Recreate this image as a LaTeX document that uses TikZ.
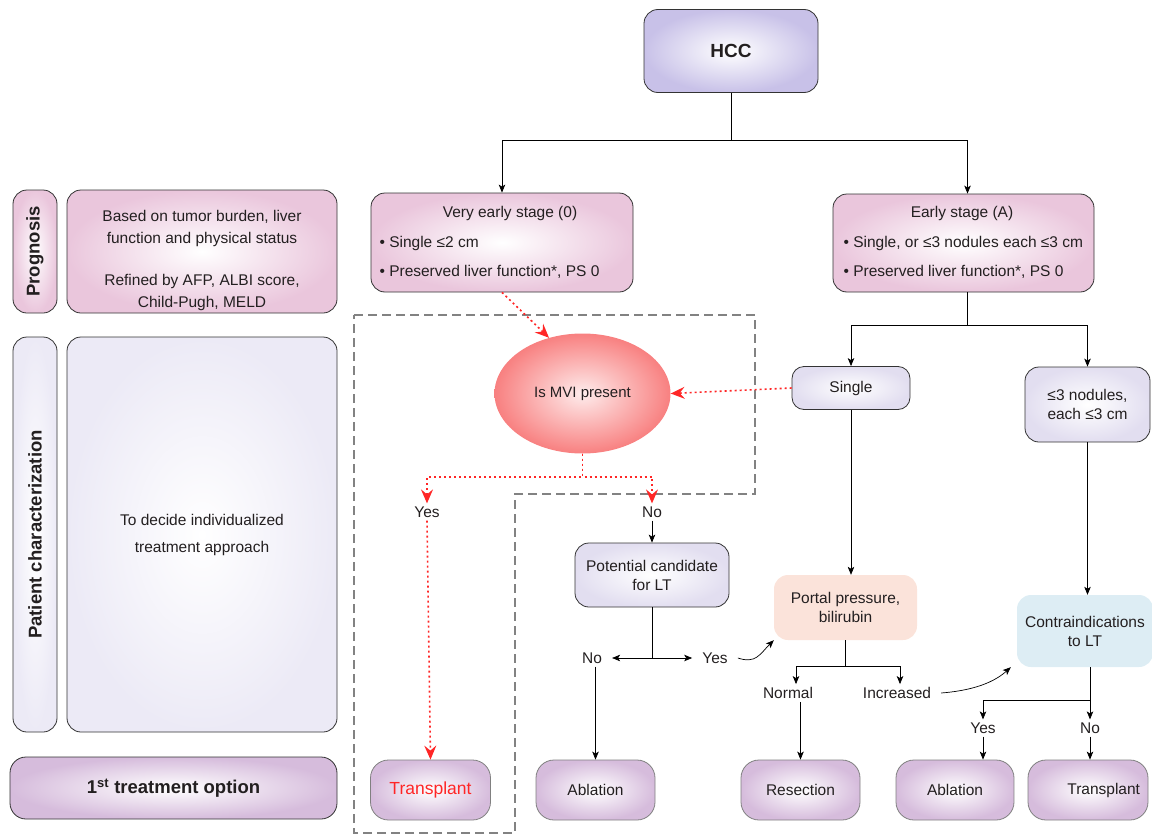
\documentclass[tikz,border=0pt]{standalone}
\usepackage{fontspec}
\setmainfont{Liberation Sans}
\usepackage{tikz}
\usetikzlibrary{shapes,arrows.meta,positioning}

\definecolor{lineC}{RGB}{51,51,51}
\definecolor{textC}{RGB}{35,31,32}
\definecolor{hccC}{RGB}{200,193,232}
\definecolor{stageC}{RGB}{234,198,220}
\definecolor{subC}{RGB}{226,222,240}
\definecolor{charC}{RGB}{236,234,246}
\definecolor{optC}{RGB}{214,188,220}
\definecolor{mviC}{RGB}{248,128,128}
\definecolor{portalC}{RGB}{251,227,218}
\definecolor{contraC}{RGB}{221,237,244}
\definecolor{redC}{RGB}{255,38,38}
\definecolor{dashC}{RGB}{130,130,130}

\tikzset{
  every node/.style={font=\fontsize{15.5}{19}\selectfont, text=textC},
  base/.style={rounded corners=14pt, draw=lineC, line width=0.8pt, inner sep=0pt},
  hccbox/.style={base, shade, inner color=white, outer color=hccC, minimum width=174pt, minimum height=83pt, font=\bfseries\fontsize{19}{22}\selectfont},
  stagebox/.style={base, shade, inner color=white, outer color=stageC, minimum width=262pt, minimum height=99pt},
  subbox/.style={base, shade, inner color=white, outer color=subC, align=center},
  tagbox/.style={base, shade, inner color=white, outer color=#1, minimum height=44pt, rotate=90, font=\bfseries\fontsize{18.5}{22}\selectfont},
  infobox/.style={base, shade, inner color=white, outer color=#1, minimum width=270pt},
  optbox/.style={base, draw=gray, rounded corners=18pt, shade, inner color=white, outer color=optC, minimum width=120pt, minimum height=60pt},
  softbox/.style={rounded corners=14pt, fill=#1, align=center, inner sep=0pt},
  lbl/.style={inner xsep=10pt, inner ysep=3pt},
  link/.style={-{Stealth[length=8pt,width=6.5pt,inset=2pt]}, draw=black, line width=0.7pt},
  redlink/.style={-{Stealth[length=14pt,width=12pt,inset=5pt]}, draw=redC, line width=1.6pt, dash pattern=on 2pt off 3pt},
  frame/.style={draw=dashC, line width=1.5pt, dash pattern=on 9pt off 5pt}
}

\begin{document}
\begin{tikzpicture}[x=1pt,y=-1pt]
\useasboundingbox (0,0) rectangle (1152,835);

% left column
\node[tagbox=stageC, minimum width=123pt] (tagprog) at (35,251.5) {Prognosis};
\node[infobox=stageC, minimum height=123pt] (prog) at (202,251.5) {};
\node[align=center, font=\fontsize{15.5}{22}\selectfont] (progtext) at (202,260)
  {Based on tumor burden, liver\\function and physical status\\[20pt]Refined by AFP, ALBI score,\\Child-Pugh, MELD};
\node[tagbox=charC, minimum width=395pt] (tagchar) at (35,534.5) {Patient characterization};
\node[infobox=charC, minimum height=395pt, align=center, font=\fontsize{15.5}{27}\selectfont] (char) at (202,534.5)
  {To decide individualized\\treatment approach};
\node[optbox, rounded corners=16pt, minimum width=327pt, minimum height=62pt, draw=lineC, font=\bfseries\fontsize{18.5}{22}\selectfont] (first) at (173.5,788)
  {1\textsuperscript{st} treatment option};

% frame round the MVI branch
\draw[frame] (354,315) -- (755,315) -- (755,494) -- (515,494) -- (515,833) -- (354,833) -- cycle;

% top of the tree
\node[hccbox] (hcc) at (731,51) {HCC};
\node[stagebox] (vearly) at (502,242.5) {};
\node (vearlyhead) at (510,213) {Very early stage (0)};
\node[anchor=west] (vearlyA) at (376,243) {\textbullet\ Single ≤2 cm};
\node[anchor=west] (vearlyB) at (376,272) {\textbullet\ Preserved liver function*, PS 0};
\node[stagebox, minimum width=261pt, minimum height=98pt] (early) at (963.5,243) {};
\node (earlyhead) at (962,213) {Early stage (A)};
\node[anchor=west] (earlyA) at (840,243) {\textbullet\ Single, or ≤3 nodules each ≤3 cm};
\node[anchor=west] (earlyB) at (840,272) {\textbullet\ Preserved liver function*, PS 0};

\draw[link] (hcc.south) -- ++(0,47) -| (vearly.north);
\draw[link] (hcc.south) -- ++(0,47) -| ([xshift=4pt]early.north);

% MVI branch
\node[ellipse, shade, inner color=white!85!mviC, outer color=mviC, minimum width=176pt, minimum height=120pt, inner sep=0pt, font=\fontsize{15}{18}\selectfont] (mvi) at (582.5,393.5) {Is MVI present};
\node[subbox, rounded corners=12pt, minimum width=118pt, minimum height=43pt] (single) at (851,388) {Single};
\node[subbox, minimum width=125pt, minimum height=75pt] (nodules) at (1087.5,404.5) {≤3 nodules,\\each ≤3 cm};

\draw[link] ([xshift=4pt]early.south) -- ++(0,33) -| (single.north);
\draw[link] ([xshift=4pt]early.south) -- ++(0,33) -| (nodules.north);
\draw[redlink] (vearly.south) -- (mvi.121);
\draw[redlink] (single.west) -- (mvi.east);

\node[lbl] (yesmvi) at (427,512) {Yes};
\node[lbl] (nomvi) at (652,512) {No};
\draw[redlink] (mvi.south) -- ++(0,23) -| (yesmvi.north);
\draw[redlink] (mvi.south) -- ++(0,23) -| (nomvi.north);

\node[optbox, text=redC, font=\fontsize{17.5}{20}\selectfont] (transA) at (430.5,790) {Transplant};
\draw[redlink] (yesmvi.south) -- (transA.north);

% candidate for LT
\node[subbox, minimum width=154pt, minimum height=64pt] (cand) at (652,575) {Potential candidate\\for LT};
\draw[link] (nomvi.south) -- (cand.north);
\node[lbl] (nocand) at (592,658) {No};
\node[lbl] (yescand) at (715,658) {Yes};
\draw[link] (cand.south) |- (nocand.east);
\draw[link] (cand.south) |- (yescand.west);
\node[optbox, minimum width=119pt] (ablA) at (595.5,790) {Ablation};
\draw[link] (ablA.north |- nocand.south) -- (ablA.north);

% portal pressure
\node[softbox=portalC, minimum width=143pt, minimum height=65pt] (portal) at (845.5,607.5) {Portal pressure,\\bilirubin};
\draw[link] (single.south) -- (single.south |- portal.north);
\draw[link] (yescand.east) .. controls +(18,6) and +(-14,14) .. (portal.south west);
\node[lbl] (normal) at (788,693) {Normal};
\node[lbl] (incr) at (897,693) {Increased};
\draw[link] (portal.south) -- ++(0,26) -| ([xshift=8pt]normal.north);
\draw[link] (portal.south) -- ++(0,26) -| ([xshift=3pt]incr.north);
\node[optbox, minimum width=119pt] (resec) at (800.5,790) {Resection};
\draw[link] (resec.north |- normal.south) -- (resec.north);

% contraindications
\node[softbox=contraC, minimum width=136pt, minimum height=72pt] (contra) at (1085,631) {Contraindications\\to LT};
\draw[link] (nodules.south) -- (nodules.south |- contra.north);
\draw[link] (incr.east) .. controls +(25,-2) and +(-20,18) .. ([xshift=-6pt]contra.south west);
\node[lbl] (yescon) at (983,728) {Yes};
\node[lbl] (nocon) at (1090,728) {No};
\draw[link] (nocon.north |- contra.south) -- ++(0,33) -| (yescon.north);
\draw[link] (nocon.north |- contra.south) -- (nocon.north);
\node[optbox, minimum width=118pt] (ablB) at (955,790) {Ablation};
\node[optbox, inner xsep=8pt, align=right, text width=104pt] (transB) at (1088,790) {Transplant};
\draw[link] (yescon.south) -- (yescon.south |- ablB.north);
\draw[link] (nocon.south) -- (nocon.south |- transB.north);
\end{tikzpicture}
\end{document}
